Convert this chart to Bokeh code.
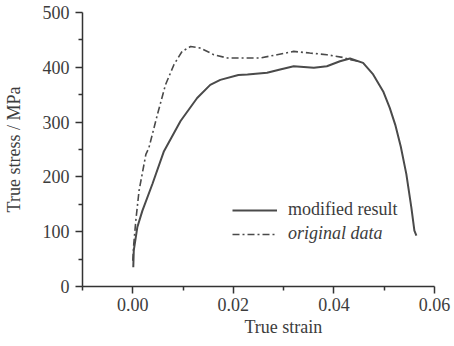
from bokeh.plotting import figure
from bokeh.models import Range1d, FixedTicker, PrintfTickFormatter, Legend, LegendItem, Title
from bokeh.embed import file_html
from bokeh.resources import INLINE

# modified result (solid)
mod_strain = [0.0001, 0.0002, 0.0009, 0.0019, 0.0039, 0.0062, 0.0095, 0.0128, 0.0154, 0.0174,
              0.0210, 0.0228, 0.0267, 0.0293, 0.0320, 0.0360, 0.0386, 0.0412, 0.0432, 0.0458,
              0.0478, 0.0498, 0.0511, 0.0522, 0.0533, 0.0544, 0.0554, 0.0560, 0.0564]
mod_stress = [35, 66, 108, 138, 187, 247, 302, 344, 368, 377,
              386, 387, 390, 396, 402, 399, 402, 411, 416, 408,
              387, 356, 326, 295, 255, 205, 144, 102, 93]

# original data (dash-dot)
orig_strain = [0.0, 0.0002, 0.0006, 0.00125, 0.0026, 0.0032, 0.0049, 0.0065, 0.0082, 0.0098,
               0.0115, 0.0135, 0.0161, 0.0188, 0.0210, 0.0253, 0.0287, 0.0320, 0.0352, 0.0386,
               0.0418, 0.0432, 0.0450]
orig_stress = [47, 78, 120, 175, 241, 253, 314, 368, 405, 429,
               438, 435, 423, 417, 417, 417, 423, 429, 426, 423,
               418, 414, 411]

x_ticks = [0.0, 0.02, 0.04, 0.06]
x_minor = [-0.01, 0.01, 0.03, 0.05]
y_ticks = [0, 100, 200, 300, 400, 500]
y_minor = [50, 150, 250, 350, 450]

FONT = "Liberation Serif"
TXT = "#3c3c3c"
LINE = "#4a4a4a"
FS = "18px"

p = figure(width=454, height=346, output_backend="svg", toolbar_location=None,
           x_range=Range1d(-0.01, 0.06), y_range=Range1d(0, 500),
           min_border_left=81, min_border_right=20, min_border_top=12, min_border_bottom=60)
p.outline_line_color = None
p.grid.visible = False
p.background_fill_color = "white"
p.border_fill_color = "white"

r1 = p.line(mod_strain, mod_stress, line_color=LINE, line_width=2)
r2 = p.line(orig_strain, orig_stress, line_color=LINE, line_width=1.6, line_dash="7 3 2 3")

for ax in (p.xaxis[0], p.yaxis[0]):
    ax.axis_line_color = "#333333"
    ax.axis_line_width = 1.5
    ax.major_tick_line_color = "#333333"
    ax.minor_tick_line_color = "#333333"
    ax.major_tick_line_width = 1.5
    ax.minor_tick_line_width = 1.5
    ax.major_tick_in = 0
    ax.major_tick_out = 7
    ax.minor_tick_in = 0
    ax.minor_tick_out = 4
    ax.major_label_text_font = FONT
    ax.major_label_text_font_size = FS
    ax.major_label_text_color = TXT
    ax.axis_label_text_font = FONT
    ax.axis_label_text_font_size = FS
    ax.axis_label_text_font_style = "normal"
    ax.axis_label_text_color = TXT

p.xaxis.ticker = FixedTicker(ticks=x_ticks, minor_ticks=x_minor)
p.yaxis.ticker = FixedTicker(ticks=y_ticks, minor_ticks=y_minor)
p.xaxis.formatter = PrintfTickFormatter(format="%.2f")
p.yaxis.axis_label = "True stress / MPa"
p.xaxis.major_label_standoff = 4
p.yaxis.major_label_standoff = 6
p.yaxis.axis_label_standoff = 16

# x-axis title sits right of centre in the reference
p.add_layout(Title(text="True  strain", align="left", offset=162, standoff=2,
                   text_font=FONT, text_font_size=FS, text_font_style="normal",
                   text_color=TXT), "below")

def make_legend(label, renderer, loc, style):
    lg = Legend(items=[LegendItem(label=label, renderers=[renderer])], location=loc,
                orientation="vertical", padding=0, margin=0, spacing=0,
                border_line_color=None, background_fill_alpha=0,
                glyph_width=45, glyph_height=16, label_height=16, label_standoff=11,
                label_text_font=FONT, label_text_font_size=FS,
                label_text_font_style=style, label_text_color=TXT)
    p.add_layout(lg, "center")

make_legend("modified result", r1, (150, 66), "normal")
make_legend("original data", r2, (150, 42), "italic")

open("out.html", "w").write(file_html(p, INLINE))
